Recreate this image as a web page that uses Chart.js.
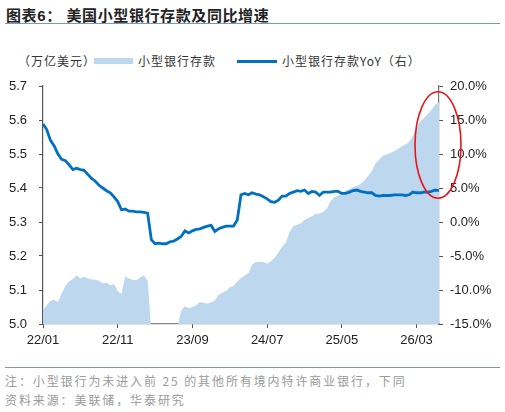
<!DOCTYPE html>
<html>
<head>
<meta charset="utf-8">
<script src="https://cdn.jsdelivr.net/npm/chart.js@4"></script>
<style>
  body { margin: 0; width: 505px; height: 412px; background: #fff; position: relative; overflow: hidden;
         font-family: "Liberation Sans", "Noto Sans CJK SC", sans-serif; }
  .title { position: absolute; left: 6px; top: 4px; font-size: 15px; font-weight: bold; color: #222;
           font-family: "Liberation Sans", "Noto Sans CJK SC", sans-serif; letter-spacing: 0.6px; }
  .rule { position: absolute; left: 5px; width: 495px; height: 0; border-top: 1.5px solid #8096b8; }
  .legend { position: absolute; top: 52px; left: 18px; font-size: 12px; color: #333; white-space: nowrap;
            font-family: "Noto Sans CJK SC", sans-serif; letter-spacing: 1px; }
  .legend span { position: absolute; top: 0; }
  .swatch { position: absolute; }
  .note { position: absolute; left: 5px; font-size: 12px; color: #9a9a9a; letter-spacing: 1.9px;
          font-family: "Noto Sans CJK SC", sans-serif; white-space: nowrap; }
  #chart { position: absolute; left: 0; top: 66px; }
</style>
</head>
<body>
<div class="title">图表6：&nbsp;美国小型银行存款及同比增速</div>
<div class="rule" style="top:23px"></div>

<div class="legend">
  <span style="left:0">（万亿美元）</span>
  <div class="swatch" style="left:76px; top:6px; width:39px; height:6px; background:#bdd7ee"></div>
  <span style="left:120px">小型银行存款</span>
  <div class="swatch" style="left:219px; top:8px; width:40px; height:3px; background:#0070c0"></div>
  <span style="left:264px">小型银行存款YoY（右）</span>
</div>

<canvas id="chart" width="505" height="290"></canvas>

<div class="rule" style="top:367px"></div>
<div class="note" style="top:372px">注：小型银行为未进入前 25 的其他所有境内特许商业银行，下同</div>
<div class="note" style="top:391px">资料来源：美联储，华泰研究</div>

<script>
// half-monthly points, 22/01 .. 26/06
const categories = [];
for (let i = 0; i < 107; i++) {
  const mi = Math.floor(i / 2);
  categories.push((22 + Math.floor(mi / 12)) + '/' + String(mi % 12 + 1).padStart(2, '0'));
}
const tickLabels = ['22/01', '22/11', '23/09', '24/07', '25/05', '26/03'];
const tickEvery = 20;

// 小型银行存款 (万亿美元, left axis)
const deposits = [
  5.040, 5.055, 5.068, 5.071, 5.065, 5.090, 5.112, 5.125, 5.132, 5.143,
  5.134, 5.139, 5.134, 5.131, 5.130, 5.127, 5.119, 5.122, 5.114, 5.118,
  5.097, 5.088, 5.140, 5.134, 5.130, 5.129, 5.137, 5.143, 5.128, 4.980,
  4.980, 4.980, 4.980, 4.980, 4.980, 4.980, 4.990, 5.040, 5.052, 5.046,
  5.050, 5.055, 5.065, 5.062, 5.060, 5.063, 5.070, 5.085, 5.092, 5.097,
  5.108, 5.112, 5.125, 5.135, 5.143, 5.150, 5.176, 5.182, 5.183, 5.182,
  5.178, 5.184, 5.195, 5.210, 5.227, 5.240, 5.270, 5.288, 5.291, 5.296,
  5.306, 5.312, 5.317, 5.324, 5.324, 5.330, 5.340, 5.362, 5.373, 5.378,
  5.384, 5.392, 5.397, 5.402, 5.406, 5.412, 5.422, 5.435, 5.450, 5.472,
  5.484, 5.495, 5.499, 5.503, 5.508, 5.515, 5.522, 5.528, 5.535, 5.554,
  5.580, 5.596, 5.606, 5.618, 5.630, 5.645, 5.652
];

// 小型银行存款YoY (%, right axis)
const yoy = [
  14.4, 13.6, 12.0, 11.2, 10.0, 9.2, 9.0, 8.4, 7.7, 7.9,
  7.7, 7.6, 7.0, 6.4, 6.0, 5.4, 5.0, 4.6, 4.3, 3.7,
  3.0, 1.8, 1.9, 1.6, 1.6, 1.5, 1.5, 1.4, 1.3, -2.6,
  -3.2, -3.1, -3.2, -3.2, -2.9, -2.8, -2.5, -2.1, -1.3, -1.6,
  -1.3, -1.1, -1.0, -0.8, -0.6, -0.5, -1.4, -1.0, -0.8, -0.6,
  -0.6, -0.6, 0.3, 4.0, 4.2, 4.0, 4.3, 4.1, 4.0, 3.7,
  3.4, 3.0, 2.9, 3.2, 3.8, 3.8, 4.2, 4.4, 4.6, 4.5,
  4.7, 4.2, 4.5, 4.4, 3.9, 4.4, 4.4, 4.4, 4.5, 4.5,
  4.2, 4.2, 4.4, 4.6, 4.7, 4.5, 4.4, 4.3, 4.3, 3.9,
  3.8, 3.9, 3.9, 3.9, 4.0, 4.0, 4.0, 3.9, 4.0, 4.4,
  4.3, 4.3, 4.4, 4.4, 4.5, 4.7, 4.6
];

const axisColor = '#555';
const tickFont = { family: '"Liberation Sans", Arial, sans-serif', size: 13 };

// red ellipse drawn around the latest readings
const ellipsePlugin = {
  id: 'ellipse',
  afterDatasetsDraw(chart) {
    const { ctx, scales } = chart;
    const cx = scales.x.getPixelForValue(106) - 1;
    const top = scales.y.getPixelForValue(5.683);
    const bottom = scales.y.getPixelForValue(5.37);
    ctx.save();
    ctx.beginPath();
    ctx.ellipse(cx, (top + bottom) / 2, 23, (bottom - top) / 2, 0, 0, Math.PI * 2);
    ctx.strokeStyle = '#e8141b';
    ctx.lineWidth = 1.6;
    ctx.stroke();
    ctx.restore();
  }
};

new Chart(document.getElementById('chart'), {
  type: 'line',
  data: {
    labels: categories,
    datasets: [
      {
        label: '小型银行存款YoY（右）',
        data: yoy,
        yAxisID: 'y1',
        borderColor: '#0070c0',
        borderWidth: 2.8,
        pointRadius: 0,
        tension: 0,
        fill: false,
        order: 0,
      },
      {
        label: '小型银行存款',
        data: deposits,
        yAxisID: 'y',
        borderWidth: 0,
        borderColor: 'rgba(0,0,0,0)',
        backgroundColor: '#bdd7ee',
        pointRadius: 0,
        tension: 0,
        fill: 'start',
        order: 1,
      },
    ],
  },
  options: {
    responsive: false,
    animation: false,
    devicePixelRatio: 1,
    layout: { padding: { top: 20 } },
    plugins: { legend: { display: false }, tooltip: { enabled: false } },
    scales: {
      x: {
        offset: false,
        grid: {
          drawOnChartArea: false,
          tickLength: 4,
          tickColor: (c) => (c.index % tickEvery === 0 ? axisColor : 'rgba(0,0,0,0)'),
        },
        border: { color: '#888', width: 1.2 },
        ticks: {
          autoSkip: false, maxRotation: 0, padding: 5, color: '#222', font: tickFont,
          callback: (v, i) => (i % tickEvery === 0 ? tickLabels[i / tickEvery] : ''),
        },
        afterFit: (s) => { s.height = 32; },
      },
      y: {
        position: 'left',
        min: 5.0, max: 5.7,
        grid: { drawOnChartArea: false, tickLength: 4, tickColor: axisColor },
        border: { color: axisColor, width: 1.2 },
        ticks: { stepSize: 0.1, padding: 12, color: '#222', font: tickFont, callback: (v) => v.toFixed(1) },
        afterFit: (s) => { s.width = 43; },
      },
      y1: {
        position: 'right',
        min: -15, max: 20,
        grid: { drawOnChartArea: false, tickLength: 4, tickColor: axisColor },
        border: { color: '#777', width: 1.2 },
        ticks: { stepSize: 5, padding: 7, color: '#222', font: tickFont, callback: (v) => v.toFixed(1) + '%' },
        afterFit: (s) => { s.width = 66; },
      },
    },
  },
  plugins: [ellipsePlugin],
});
</script>
</body>
</html>
